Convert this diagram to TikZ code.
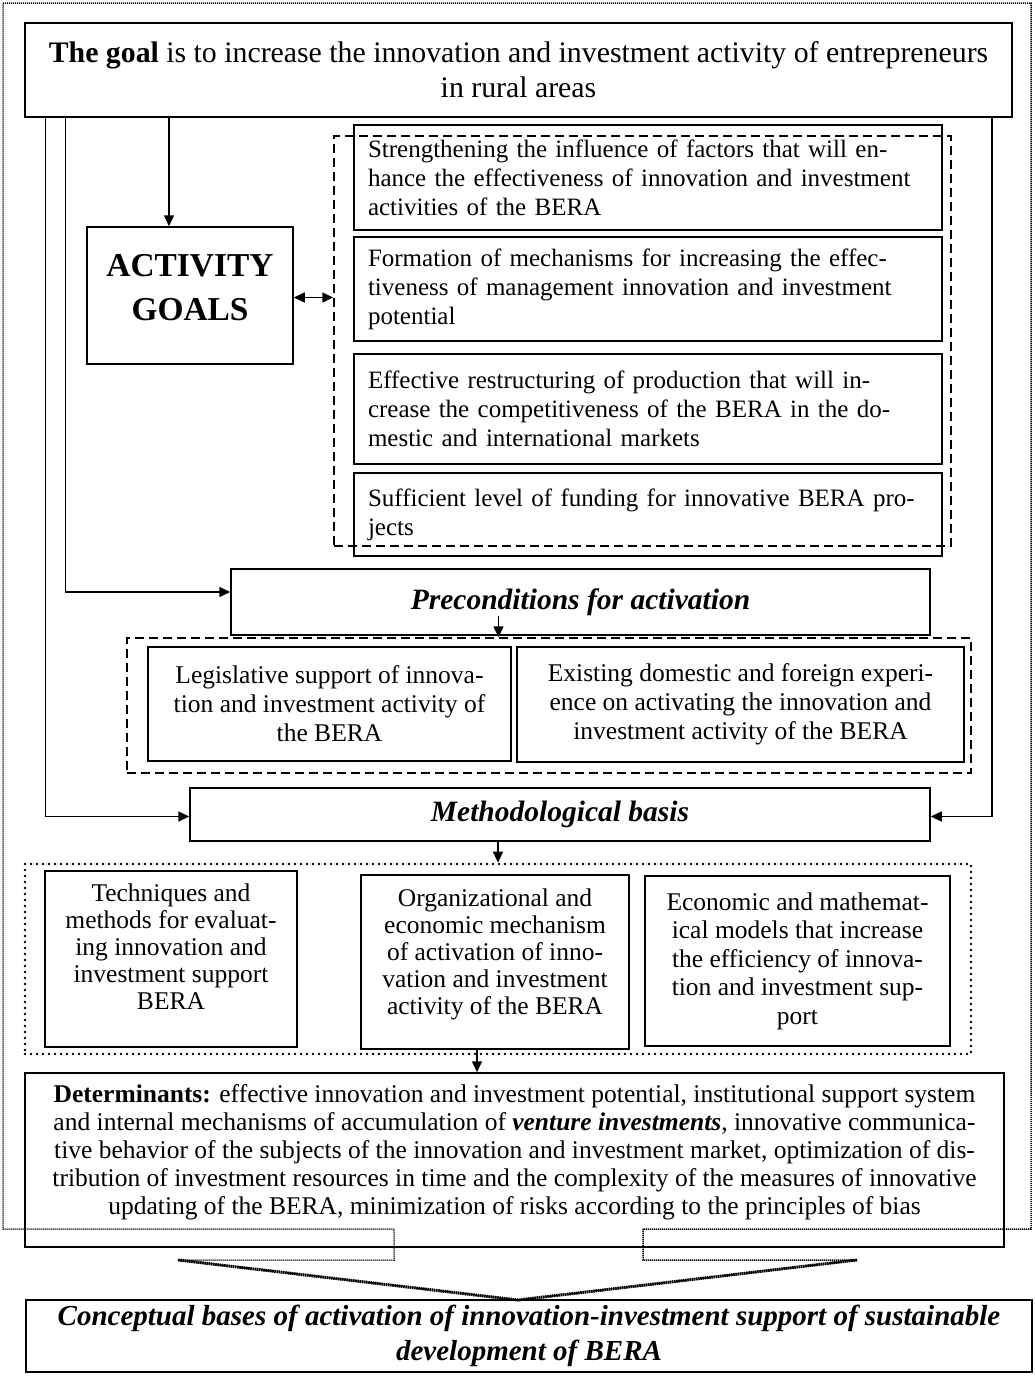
\documentclass[tikz,border=0pt]{standalone}
\usepackage{fontspec}
\setmainfont{Liberation Serif}
\usetikzlibrary{arrows.meta}

\begin{document}
\begin{tikzpicture}[x=1pt, y=-1pt, >={Triangle[length=11pt, width=10pt]},
    box/.style={draw, line width=1.5pt, inner sep=0pt, align=center,
      font=\fontsize{25.5}{29}\selectfont},
    aim/.style={box, minimum width=588pt, text width=560pt, align=left,
      font=\fontsize{25}{29}\selectfont},
    head/.style={box, font=\fontsize{29.5}{35}\selectfont\bfseries\itshape},
    dashbox/.style={draw, line width=1.5pt, dash pattern=on 9pt off 5pt, inner sep=0pt},
    dotbox/.style={draw, line width=2.8pt, dash pattern=on 0pt off 6pt, line cap=round, inner sep=0pt},
    frame/.style={draw, line width=1.5pt, dash pattern=on 1.2pt off 0.8pt},
    wing/.style={draw, line width=3pt, dash pattern=on 1.5pt off 0.7pt},
    link/.style={->, line width=1.5pt}]
  \useasboundingbox (0,0) rectangle (1034,1379);

  \coordinate (apex) at (518,1300);
  \draw[frame] (3,3) -- (1031,3) -- (1031,1229) -- (643,1229) -- (643,1260) -- (857,1260)
    -- (apex) -- (178,1260) -- (394,1260) -- (394,1229) -- (3,1229) -- cycle;
  \draw[wing] (857,1260) -- (apex) -- (178,1260);

  \node (goal) [box, minimum width=987pt, minimum height=94pt,
    font=\fontsize{29.8}{35}\selectfont] at (518.5,70)
    {\textbf{The goal} is to increase the innovation and investment activity of entrepreneurs\\in rural areas};

  \node (act) [box, minimum width=206pt, minimum height=137pt,
    font=\fontsize{33.4}{44}\selectfont\bfseries] at (190,295.5) {ACTIVITY\\GOALS\\[-28pt]\mbox{}};

  \node (aims) [dashbox, minimum width=617pt, minimum height=410pt] at (642.5,341) {};
  \node (aim1) [aim, minimum height=105pt] at (648,177.5)
    {Strengthening the influence of factors that will en-\\hance the effectiveness of innovation and investment\\activities of the BERA};
  \node (aim2) [aim, minimum height=104pt] at (648,289)
    {Formation of mechanisms for increasing the effec-\\tiveness of management innovation and investment\\potential};
  \node (aim3) [aim, minimum height=110pt] at (648,409)
    {Effective restructuring of production that will in-\\crease the competitiveness of the BERA in the do-\\mestic and international markets};
  \node (aim4) [aim, minimum height=83pt] at (648,514.5)
    {Sufficient level of funding for innovative BERA pro-\\jects};

  \node (precond) [head, minimum width=699pt, minimum height=66pt] at (580.5,602)
    {Preconditions for activation};
  \node (prereq) [dashbox, minimum width=844pt, minimum height=135pt] at (549,705.5) {};
  \node (legal) [box, minimum width=363pt, minimum height=114pt] at (329.5,704)
    {Legislative support of innova-\\tion and investment activity of\\the BERA};
  \node (exper) [box, minimum width=447pt, minimum height=115pt] at (740.5,704.5)
    {Existing domestic and foreign experi-\\ence on activating the innovation and\\investment activity of the BERA};

  \node (method) [head, minimum width=740pt, minimum height=53pt] at (560,814.5)
    {Methodological basis};

  \node (tools) [dotbox, minimum width=946pt, minimum height=190pt] at (498,959) {};
  \node (techn) [box, minimum width=252pt, minimum height=176pt,
    font=\fontsize{25.5}{27}\selectfont] at (171,959)
    {Techniques and\\methods for evaluat-\\ing innovation and\\investment support\\BERA\\[-3pt]\mbox{}};
  \node (orgmech) [box, minimum width=268pt, minimum height=174pt,
    font=\fontsize{25.5}{27}\selectfont] at (495,962)
    {Organizational and\\economic mechanism\\of activation of inno-\\vation and investment\\activity of the BERA\\[-7pt]\mbox{}};
  \node (models) [box, minimum width=305pt, minimum height=170pt,
    font=\fontsize{25.5}{28.5}\selectfont] at (797.5,961)
    {Economic and mathemat-\\ical models that increase\\the efficiency of innova-\\tion and investment sup-\\port};

  \node (determ) [box, minimum width=979pt, minimum height=174pt,
    font=\fontsize{25.5}{28}\selectfont] at (514.5,1160)
    {\textbf{Determinants:} effective innovation and investment potential, institutional support system\\
     and internal mechanisms of accumulation of \textbf{\textit{venture investments}}, innovative communica-\\
     tive behavior of the subjects of the innovation and investment market, optimization of dis-\\
     tribution of investment resources in time and the complexity of the measures of innovative\\
     updating of the BERA, minimization of risks according to the principles of bias\\[-8pt]\mbox{}};

  \node (concept) [head, minimum width=1006pt, minimum height=72pt,
    font=\fontsize{29}{35}\selectfont\bfseries\itshape] at (529,1336)
    {Conceptual bases of activation of innovation-investment support of sustainable\\development of BERA};

  \draw[link] ([xshift=-21pt]act.north |- goal.south) -- ([xshift=-21pt]act.north);
  \draw[<->, line width=1.5pt] ([yshift=-2pt]act.east) -- ([yshift=-2pt]act.east -| aims.west);
  \draw[link] ([xshift=41pt]goal.south west) |- ([yshift=10pt]precond.west);
  \draw[link] ([xshift=21pt]goal.south west) |- ([yshift=-2pt]method.west);
  \draw[link] ([xshift=-21pt]goal.south east) |- ([yshift=-2pt]method.east);
  \draw[link] ([xshift=-82pt, yshift=20pt]precond.south) -- ([xshift=-82pt]precond.south |- prereq.north);
  \draw[link] ([xshift=-62pt]method.south) -- ([xshift=-62pt]method.south |- tools.north);
  \draw[link] ([xshift=-18pt]orgmech.south) -- ([xshift=-18pt]orgmech.south |- determ.north);
\end{tikzpicture}
\end{document}
